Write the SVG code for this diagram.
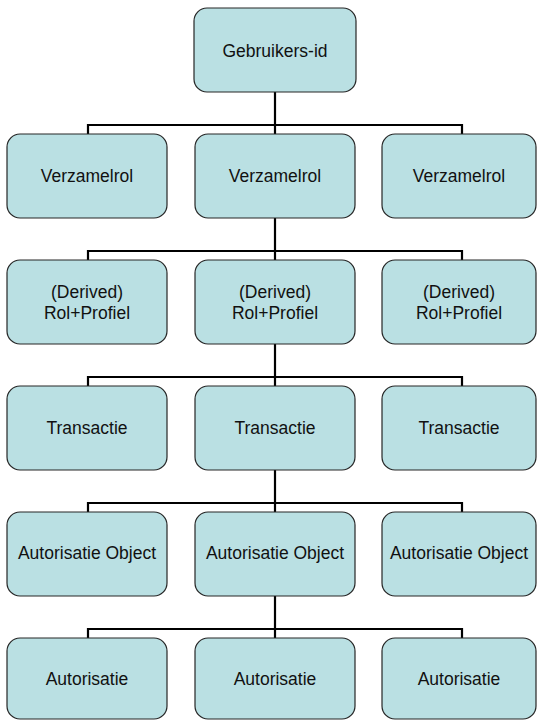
<svg xmlns="http://www.w3.org/2000/svg" width="537" height="720" viewBox="0 0 537 720">
<style>
.box{fill:#BAE0E3;stroke:#262626;stroke-width:1.2}
.t{font-family:"Liberation Sans",Arial,sans-serif;font-size:17.5px;fill:#111;text-anchor:middle}
.c{fill:none;stroke:#000;stroke-width:2.2}
</style>
<rect width="537" height="720" fill="#fff"/>
<g id="connectors">
<path class="c" d="M275 92V125M88 134V125H462V134M275 125V134"/>
<path class="c" d="M275 218V251M88 260V251H462V260M275 251V260"/>
<path class="c" d="M275 344V377M88 386V377H462V386M275 377V386"/>
<path class="c" d="M275 470V503M88 512V503H462V512M275 503V512"/>
<path class="c" d="M275 596V629M88 638V629H462V638M275 629V638"/>
</g>
<g id="n0"><rect class="box" x="194" y="8" width="162" height="84" rx="13"/><text class="t" x="275" y="57">Gebruikers-id</text></g>
<g id="n1a"><rect class="box" x="7" y="134" width="160" height="84" rx="13"/><text class="t" x="87" y="182">Verzamelrol</text></g>
<g id="n1b"><rect class="box" x="195" y="134" width="160" height="84" rx="13"/><text class="t" x="275" y="182">Verzamelrol</text></g>
<g id="n1c"><rect class="box" x="382" y="134" width="154" height="84" rx="13"/><text class="t" x="459" y="182">Verzamelrol</text></g>
<g id="n2a"><rect class="box" x="7" y="260" width="160" height="84" rx="13"/><text class="t" x="87" y="298">(Derived)</text><text class="t" x="87" y="319">Rol+Profiel</text></g>
<g id="n2b"><rect class="box" x="195" y="260" width="160" height="84" rx="13"/><text class="t" x="275" y="298">(Derived)</text><text class="t" x="275" y="319">Rol+Profiel</text></g>
<g id="n2c"><rect class="box" x="382" y="260" width="154" height="84" rx="13"/><text class="t" x="459" y="298">(Derived)</text><text class="t" x="459" y="319">Rol+Profiel</text></g>
<g id="n3a"><rect class="box" x="7" y="386" width="160" height="84" rx="13"/><text class="t" x="87" y="434">Transactie</text></g>
<g id="n3b"><rect class="box" x="195" y="386" width="160" height="84" rx="13"/><text class="t" x="275" y="434">Transactie</text></g>
<g id="n3c"><rect class="box" x="382" y="386" width="154" height="84" rx="13"/><text class="t" x="459" y="434">Transactie</text></g>
<g id="n4a"><rect class="box" x="7" y="512" width="160" height="84" rx="13"/><text class="t" x="87" y="559">Autorisatie Object</text></g>
<g id="n4b"><rect class="box" x="195" y="512" width="160" height="84" rx="13"/><text class="t" x="275" y="559">Autorisatie Object</text></g>
<g id="n4c"><rect class="box" x="382" y="512" width="154" height="84" rx="13"/><text class="t" x="459" y="559">Autorisatie Object</text></g>
<g id="n5a"><rect class="box" x="7" y="638" width="160" height="81" rx="13"/><text class="t" x="87" y="685">Autorisatie</text></g>
<g id="n5b"><rect class="box" x="195" y="638" width="160" height="81" rx="13"/><text class="t" x="275" y="685">Autorisatie</text></g>
<g id="n5c"><rect class="box" x="382" y="638" width="154" height="81" rx="13"/><text class="t" x="459" y="685">Autorisatie</text></g>
</svg>
